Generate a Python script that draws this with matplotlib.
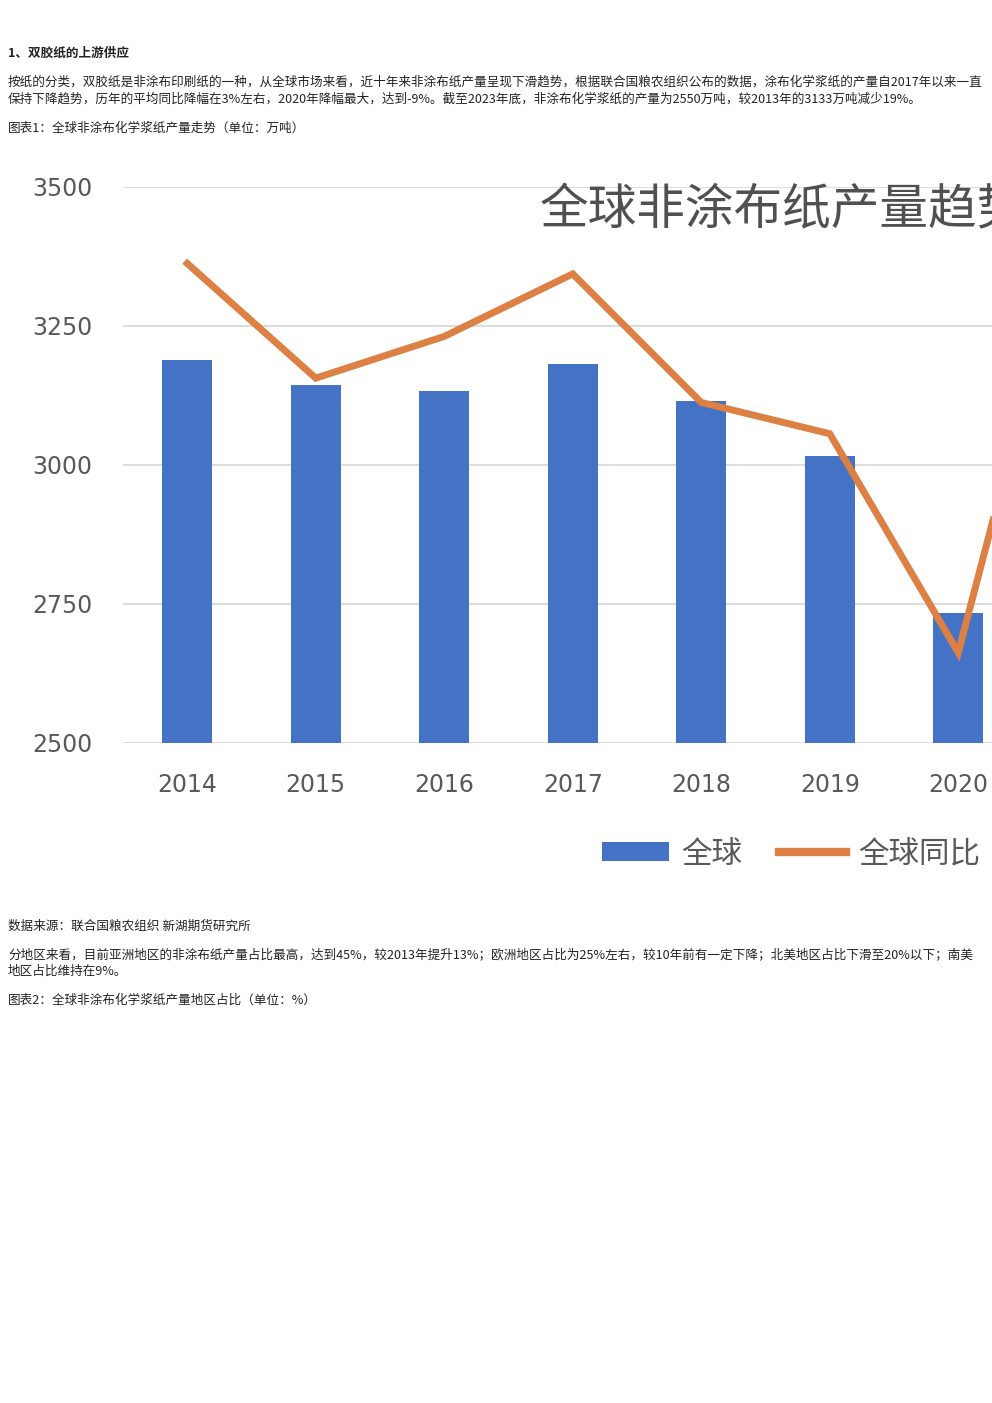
import matplotlib
matplotlib.use("Agg")
import matplotlib.pyplot as plt
from matplotlib.patches import Patch
from matplotlib.lines import Line2D

plt.rcParams['font.family'] = ['Noto Sans CJK SC', 'DejaVu Sans']

# data
years = ['2014', '2015', '2016', '2017', '2018', '2019', '2020', '2021', '2022', '2023']
output = [3189, 3144, 3133, 3182, 3115, 3016, 2734, 2900, 2800, 2550]   # 万吨 (2021+ out of view)
yoy = [1.8, -1.5, -0.3, 1.5, -2.2, -3.1, -9.4, 4.7, -3.0, -8.0]          # % (2022+ out of view)

bar_color = '#4472C4'
line_color = '#DD8043'
text_grey = '#595959'

W, H = 992, 1403
fig = plt.figure(figsize=(W / 100, H / 100), dpi=100)


def px(x, y):
    """pixel coords (top-left origin) -> figure fraction"""
    return x / W, 1 - y / H


# page text
txt_kw = dict(fontsize=9.05, color='#222222', va='center', ha='left')
fig.text(*px(8, 53), '1、双胶纸的上游供应', fontweight='bold', **txt_kw)
fig.text(*px(8, 82), '按纸的分类，双胶纸是非涂布印刷纸的一种，从全球市场来看，近十年来非涂布纸产量呈现下滑趋势，根据联合国粮农组织公布的数据，涂布化学浆纸的产量自2017年以来一直', **txt_kw)
fig.text(*px(8, 99), '保持下降趋势，历年的平均同比降幅在3%左右，2020年降幅最大，达到-9%。截至2023年底，非涂布化学浆纸的产量为2550万吨，较2013年的3133万吨减少19%。', **txt_kw)
fig.text(*px(8, 128), '图表1：全球非涂布化学浆纸产量走势（单位：万吨）', **txt_kw)
fig.text(*px(8, 926), '数据来源：联合国粮农组织 新湖期货研究所', **txt_kw)
fig.text(*px(8, 955), '分地区来看，目前亚洲地区的非涂布纸产量占比最高，达到45%，较2013年提升13%；欧洲地区占比为25%左右，较10年前有一定下降；北美地区占比下滑至20%以下；南美', **txt_kw)
fig.text(*px(8, 971), '地区占比维持在9%。', **txt_kw)
fig.text(*px(8, 1000), '图表2：全球非涂布化学浆纸产量地区占比（单位：%）', **txt_kw)

# chart axes, wider than the page so the right part is cut off
left, bottom = px(123, 743)
ax = fig.add_axes([left, bottom, 1285 / W, 556 / H])
x = range(len(years))
ax.bar(x, output, width=0.39, color=bar_color, zorder=2)
ax.set_xlim(-0.5, len(years) - 0.5)
ax.set_ylim(2500, 3500)
ax.set_yticks([2500, 2750, 3000, 3250, 3500])
ax.set_xticks(list(x))
ax.set_xticklabels(years)
ax.grid(axis='y', color='#d9d9d9', linewidth=1.3, zorder=0)
for s in ax.spines.values():
    s.set_visible(False)
ax.tick_params(length=0, labelsize=17, labelcolor=text_grey, pad=22)
ax.tick_params(axis='x', pad=21.5)
for lab in ax.get_xticklabels() + ax.get_yticklabels():
    lab.set_family('DejaVu Sans')

ax2 = ax.twinx()
ax2.plot(x, yoy, color=line_color, linewidth=5, solid_joinstyle='miter', zorder=3)
ax2.set_ylim(-12, 4)
ax2.set_yticks([])
for s in ax2.spines.values():
    s.set_visible(False)

# title (only partly on the page)
fig.text(*px(540, 211), '全球非涂布纸产量趋势', fontsize=35, color='#505050',
         ha='left', va='center')

handles = [Patch(facecolor=bar_color), Line2D([0], [0], color=line_color, linewidth=6)]
fig.legend(handles, ['全球', '全球同比'], loc='center', bbox_to_anchor=px(791, 854),
           frameon=False, fontsize=22, labelcolor=text_grey, handlelength=2.2,
           handleheight=0.55, columnspacing=1.2, handletextpad=0.4, ncol=2)

fig.savefig('out.png', dpi=100)
